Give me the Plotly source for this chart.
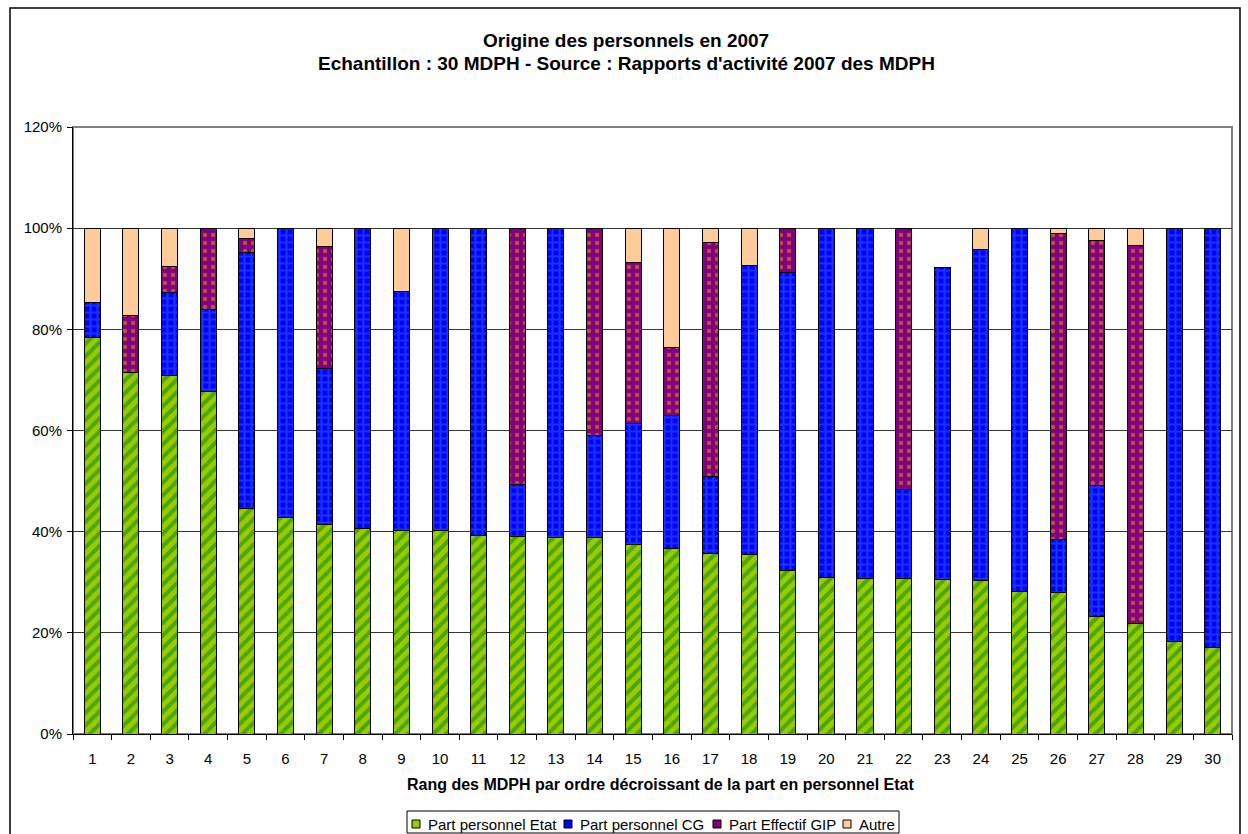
import plotly.graph_objects as go

rangs = [str(i) for i in range(1, 31)]
part_etat = [78.3, 71.4, 70.9, 67.8, 44.5, 42.9, 41.4, 40.6, 40.3, 40.2,
             39.3, 39.1, 38.9, 38.8, 37.4, 36.6, 35.6, 35.5, 32.4, 30.9,
             30.8, 30.8, 30.6, 30.4, 28.1, 27.9, 23.3, 21.9, 18.2, 17.1]
part_cg = [7.1, 0.0, 16.3, 16.2, 50.6, 57.1, 30.9, 59.4, 47.1, 59.8,
           60.7, 10.3, 61.1, 20.3, 23.9, 26.4, 15.4, 57.2, 58.8, 69.1,
           69.2, 17.6, 61.7, 65.4, 71.9, 10.6, 25.9, 0.0, 81.8, 82.9]
part_gip = [0.0, 11.4, 5.3, 16.0, 2.9, 0.0, 24.0, 0.0, 0.0, 0.0,
            0.0, 50.6, 0.0, 40.9, 32.0, 13.5, 46.2, 0.0, 8.8, 0.0,
            0.0, 51.6, 0.0, 0.0, 0.0, 60.4, 48.3, 74.7, 0.0, 0.0]
autre = [14.6, 17.2, 7.5, 0.0, 2.0, 0.0, 3.7, 0.0, 12.6, 0.0,
         0.0, 0.0, 0.0, 0.0, 6.7, 23.5, 2.8, 7.3, 0.0, 0.0,
         0.0, 0.0, 0.0, 4.2, 0.0, 1.1, 2.5, 3.4, 0.0, 0.0]

series_names = ["Part personnel Etat", "Part personnel CG", "Part Effectif GIP", "Autre"]
series_colors = ["#99CC00", "#0000FF", "#800080", "#FFCC99"]

FONT = "Arial, Liberation Sans, sans-serif"

patterns = [
    dict(shape="/", fgcolor="#008000", bgcolor="#99CC00", size=9, solidity=0.45),
    dict(shape="+", fgcolor="#3366FF", bgcolor="#0000FF", size=7, solidity=0.5),
    dict(shape=".", fgcolor="#FF9900", bgcolor="#800080", size=8, solidity=0.25),
    None,
]

fig = go.Figure()
for name, vals, col, pat in zip(series_names, [part_etat, part_cg, part_gip, autre],
                                series_colors, patterns):
    marker = dict(color=col, line=dict(color="black", width=1))
    if pat:
        marker["pattern"] = pat
    fig.add_trace(go.Bar(
        x=rangs,
        y=[v / 100 for v in vals],
        name=name,
        marker=marker,
        hovertemplate="%{x}: %{y:.1%}<extra>" + name + "</extra>",
    ))

L, R, T, B = 73, 1232, 127, 734
W, H = 1248, 834
pw, ph = R - L, B - T


def px(xp):
    return (xp - L) / pw


def py(yp):
    return (B - yp) / ph


fig.update_layout(
    width=W, height=H,
    barmode="stack",
    bargap=0.585,
    paper_bgcolor="white",
    plot_bgcolor="white",
    margin=dict(l=L, r=W - R, t=T, b=H - B, autoexpand=False),
    font=dict(family=FONT, size=15, color="black"),
    showlegend=False,
)

fig.update_xaxes(
    type="category",
    showline=True, linecolor="black", linewidth=1,
    ticks="outside", tickson="boundaries", ticklen=5, tickcolor="black",
    ticklabelstandoff=11,
    showgrid=False,
    tickfont=dict(family=FONT, size=15),
)
fig.update_yaxes(
    range=[0, 1.2], dtick=0.2, tickformat=".0%",
    showline=True, linecolor="black", linewidth=1,
    ticks="outside", ticklen=5, tickcolor="black",
    ticklabelstandoff=2,
    showgrid=True, gridcolor="#333333", gridwidth=1,
    zeroline=False,
    tickfont=dict(family=FONT, size=15),
)

annotations = []
# title lines
annotations.append(dict(text="<b>Origine des personnels en 2007</b>", xref="paper", yref="paper",
                        x=px(626), y=py(41), xanchor="center", yanchor="middle", showarrow=False,
                        font=dict(family=FONT, size=19)))
annotations.append(dict(text="<b>Echantillon : 30 MDPH - Source : Rapports d'activité 2007 des MDPH</b>",
                        xref="paper", yref="paper",
                        x=px(626), y=py(63), xanchor="center", yanchor="middle", showarrow=False,
                        font=dict(family=FONT, size=19)))
# x axis title
annotations.append(dict(text="<b>Rang des MDPH par ordre décroissant de la part en personnel Etat</b>",
                        xref="paper", yref="paper",
                        x=px(660), y=py(784), xanchor="center", yanchor="middle", showarrow=False,
                        font=dict(family=FONT, size=16)))

# legend (manual)
sym_x = [412, 564, 713, 843]
txt_x = [426, 578, 727, 857]
shapes = []
for name, col, sx, tx in zip(series_names, series_colors, sym_x, txt_x):
    shapes.append(dict(type="rect", xref="paper", yref="paper",
                       x0=px(sx), x1=px(sx + 8), y0=py(828), y1=py(820),
                       fillcolor=col, line=dict(color="black", width=1)))
    annotations.append(dict(text=name, xref="paper", yref="paper",
                            x=px(tx), y=py(824), xanchor="left", yanchor="middle",
                            showarrow=False, font=dict(family=FONT, size=15)))
shapes.append(dict(type="rect", xref="paper", yref="paper",
                   x0=px(407), x1=px(899), y0=py(833), y1=py(811),
                   line=dict(color="black", width=1), fillcolor="rgba(0,0,0,0)"))

# plot area border (gray) and chart frame
shapes.append(dict(type="rect", xref="paper", yref="paper", x0=0, x1=1, y0=0, y1=1,
                   line=dict(color="#808080", width=2), layer="below"))
shapes.append(dict(type="rect", xref="paper", yref="paper",
                   x0=px(10), x1=px(1240), y0=py(845), y1=py(8),
                   line=dict(color="black", width=1.5)))

fig.update_layout(annotations=annotations, shapes=shapes)

fig.write_html("out.html", config={"displayModeBar": False},
               post_script="document.body.style.margin='0px';")
